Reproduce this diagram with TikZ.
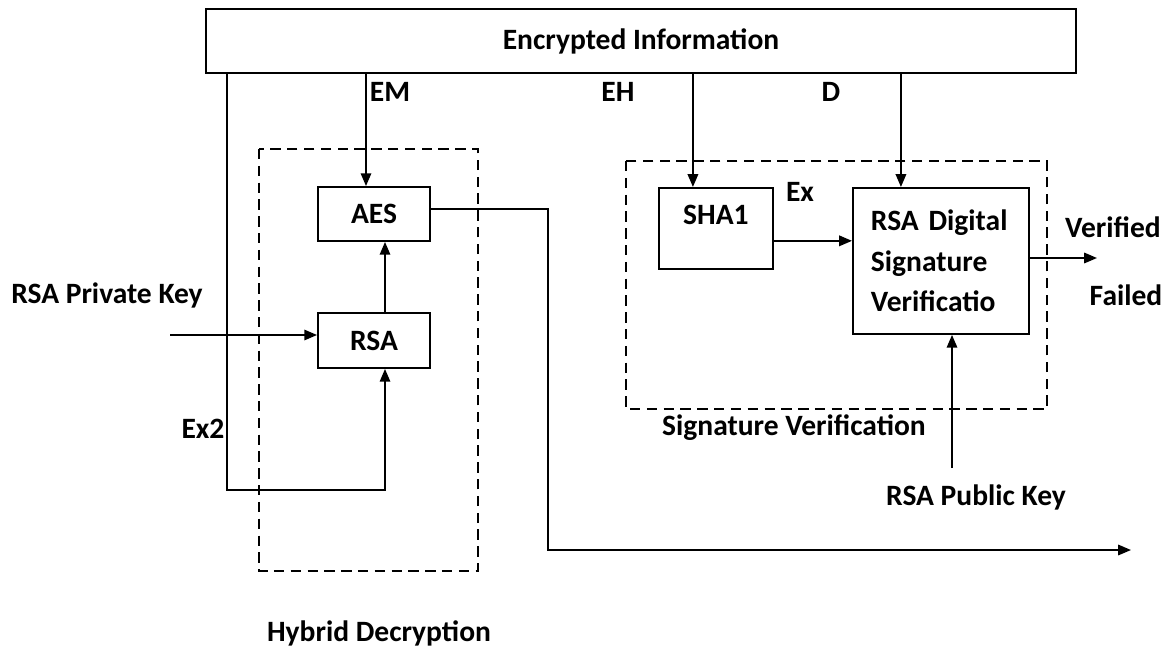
\documentclass[tikz,border=0pt]{standalone}
\usepackage{fontspec}
\setmainfont{Carlito}
\usetikzlibrary{arrows.meta,positioning}
\begin{document}
\begin{tikzpicture}[x=0.025cm,y=-0.025cm,
    font=\fontsize{21}{29}\selectfont\bfseries,
    line width=1.3pt,
    blockbox/.style={draw,rectangle,inner sep=0pt},
    groupbox/.style={draw,dash pattern=on 0.26cm off 0.16cm},
    flow/.style={-{Triangle[length=0.32cm,width=0.26cm]}},
    lbl/.style={inner sep=0pt}]
      \useasboundingbox (0,0) rectangle (1176,650);
      \draw[groupbox] (259,149) rectangle (478,571);
      \draw[groupbox] (626,161) rectangle (1047,409);
      \node[blockbox,minimum width=21.75cm,minimum height=1.6cm] (info) at (641,41) {Encrypted Information};
      \node[blockbox,minimum width=2.8cm,minimum height=1.35cm] (aes) at (374,214) {AES};
      \node[blockbox,minimum width=2.8cm,minimum height=1.375cm] (rsa) at (374,340.5) {RSA};
      \node[blockbox,anchor=north west,minimum width=2.85cm,text height=0.925cm,text depth=1.1cm] (sha) at (658,187) {SHA1};
      \node[blockbox,anchor=north west,inner xsep=0.45cm,text width=3.5cm,minimum height=3.65cm,align=left] (dsv) at (852,187) {RSA Digital\\Signature\\Verificatio};
      \node[lbl] (em) at (390,92) {EM};
      \node[lbl] (eh) at (618,92) {EH};
      \node[lbl] (dd) at (831,92) {D};
      \node[lbl] (ex) at (800,192) {Ex};
      \node[lbl] (extwo) at (203,429) {Ex2};
      \node[lbl] (verified) at (1113,227) {Verified};
      \node[lbl] (failed) at (1126,295) {Failed};
      \node[lbl] (prvlbl) at (107,295) {RSA Private Key};
      \node[lbl] (publbl) at (976,497) {RSA Public Key};
      \node[lbl] (sigtitle) at (794,428) {Signature Verification};
      \node[lbl] (hybtitle) at (379,633) {Hybrid Decryption};
      \coordinate (prvkey) at (170,335);
      \coordinate (pubkey) at (952,468);
      \coordinate (decturn) at (548,550);
      \coordinate (decout) at (1131,550);
      \coordinate (sigout) at (1097,258);
      \draw[flow] ([xshift=-0.2cm]aes.north |- info.south) -- ([xshift=-0.2cm]aes.north);
      \draw[flow] ([xshift=0.55cm]info.south west) |- ([xshift=0.275cm,yshift=-3.025cm]rsa.south) -- ([xshift=0.275cm]rsa.south);
      \draw[flow] ([xshift=0.275cm]rsa.north) -- ([xshift=0.275cm]aes.south);
      \draw[flow] (prvkey) -- (prvkey -| rsa.west);
      \draw[flow] ([yshift=0.125cm]aes.east) -| (decturn) -- (decout);
      \draw[flow] ([xshift=-0.575cm]sha.north |- info.south) -- ([xshift=-0.575cm]sha.north);
      \draw[flow] ([xshift=-1cm]dsv.north |- info.south) -- ([xshift=-1cm]dsv.north);
      \draw[flow] ([yshift=-0.31cm]sha.east) -- ([yshift=-0.31cm]sha.east -| dsv.west);
      \draw[flow] (dsv.east |- sigout) -- (sigout);
      \draw[flow] (pubkey) -- (pubkey |- dsv.south);
\end{tikzpicture}
\end{document}
